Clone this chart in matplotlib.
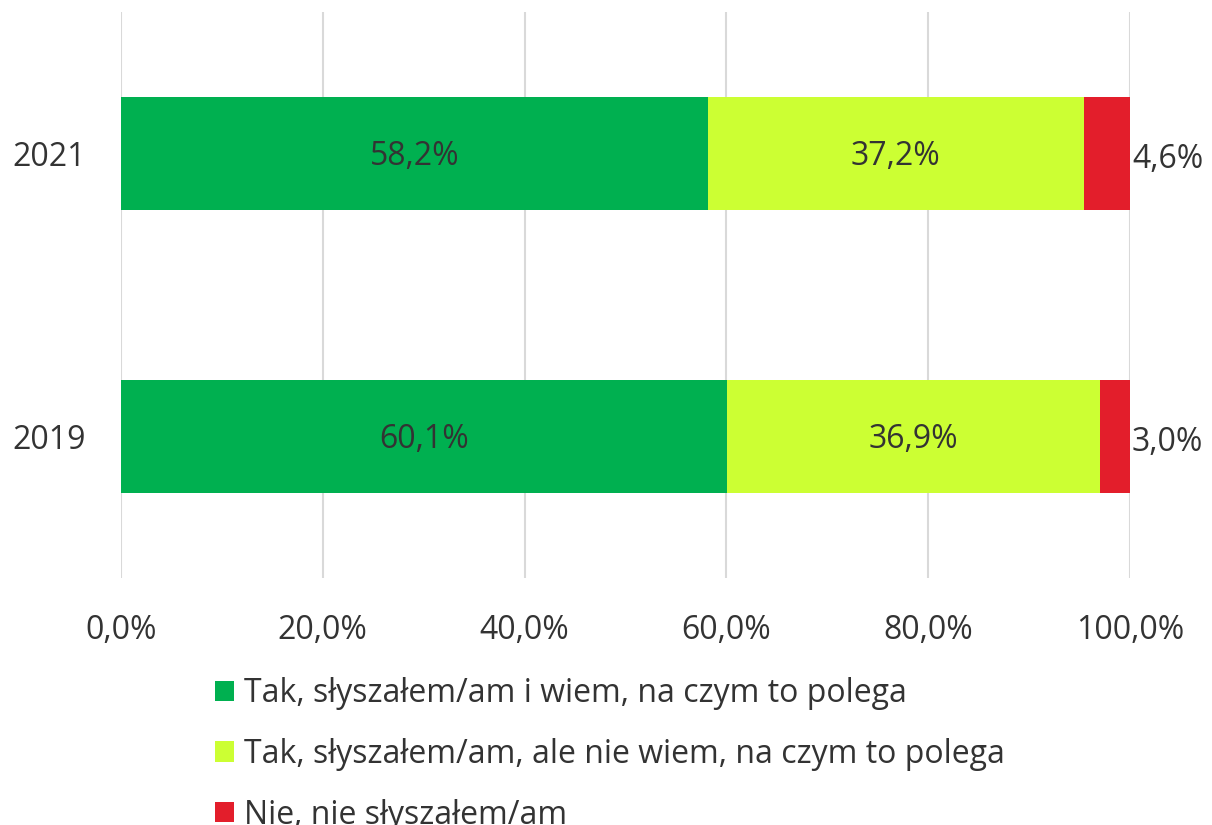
import matplotlib
matplotlib.use("Agg")
import matplotlib.pyplot as plt
from matplotlib.ticker import FuncFormatter

plt.rcParams['font.family'] = ['Open Sans', 'DejaVu Sans']

years = ["2019", "2021"]
series_names = [
    "Tak, słyszałem/am i wiem, na czym to polega",
    "Tak, słyszałem/am, ale nie wiem, na czym to polega",
    "Nie, nie słyszałem/am",
]
knows = [60.1, 58.2]
heard_only = [36.9, 37.2]
not_heard = [3.0, 4.6]
colors = ["#00B050", "#CCFF33", "#E31E2B"]
text_color = "#333333"

fig = plt.figure(figsize=(12.12, 8.25), dpi=100)
ax = fig.add_axes([121/1212, 1-578/825, (1130-121)/1212, (578-12)/825])

ypos = list(range(len(years)))
left = [0.0]*len(years)
bars = []
for vals, col, name in zip([knows, heard_only, not_heard], colors, series_names):
    b = ax.barh(ypos, vals, left=left, height=0.4, color=col, label=name, zorder=3)
    bars.append(b)
    left = [l+v for l, v in zip(left, vals)]

fs = 23
fmt = lambda v: f"{v:.1f}%".replace(".", ",")
for i in range(len(years)):
    ax.text(knows[i]/2, ypos[i] - 0.01, fmt(knows[i]), ha='center', va='center', fontsize=fs, color=text_color, zorder=4)
    ax.text(knows[i] + heard_only[i]/2, ypos[i] - 0.01, fmt(heard_only[i]), ha='center', va='center', fontsize=fs, color=text_color, zorder=4)
    ax.text(100.2, ypos[i] - 0.02, fmt(not_heard[i]), ha='left', va='center', fontsize=fs, color=text_color, zorder=4)

ax.set_xlim(0, 100)
ax.set_ylim(-0.5, 1.5)
ax.set_xticks([0, 20, 40, 60, 80, 100])
ax.xaxis.set_major_formatter(FuncFormatter(lambda v, p: f"{v:.1f}%".replace(".", ",")))
ax.set_yticks(ypos)
ax.set_yticklabels(years)
ax.tick_params(axis='both', length=0, labelsize=fs, colors=text_color)
ax.tick_params(axis='x', pad=26)
ax.tick_params(axis='y', pad=25)
ax.grid(axis='x', color="#D9D9D9", linewidth=1.5, zorder=0)
for s in ax.spines.values():
    s.set_visible(False)

leg = fig.legend(handles=bars, labels=series_names, loc='upper left',
                 bbox_to_anchor=(215/1212, 1-677/825), frameon=False, fontsize=fs,
                 handlelength=0.6, handleheight=0.6, handletextpad=0.3,
                 labelspacing=0.87, labelcolor=text_color, borderaxespad=0, borderpad=0)

fig.savefig("out.png", dpi=100)
